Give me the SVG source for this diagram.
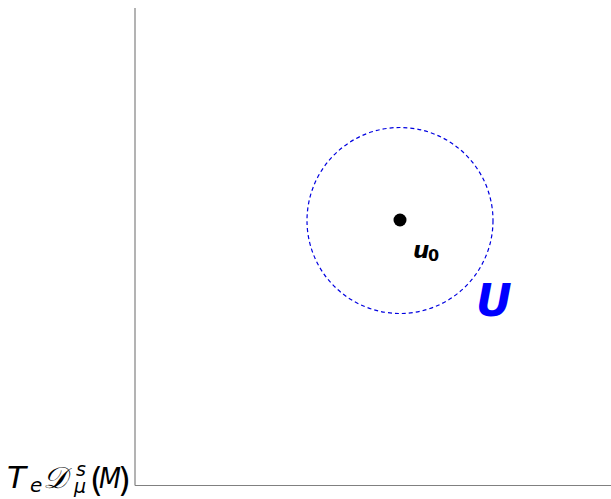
<svg xmlns="http://www.w3.org/2000/svg" width="611" height="499" viewBox="0 0 611 499">
<style>
.axis{stroke:#808080;stroke-width:1.2;fill:none}
.lbl{font-family:"DejaVu Sans",sans-serif;font-style:italic;fill:#000}
.par{font-family:"DejaVu Sans",sans-serif;fill:#000}
</style>
<rect width="611" height="499" fill="#fff"/>
<g id="axes">
<line class="axis" x1="135" y1="8" x2="135" y2="485.5"/>
<line class="axis" x1="135" y1="485.5" x2="611" y2="485.5"/>
</g>
<g id="U">
<circle cx="400" cy="220.5" r="93" fill="none" stroke="#0000e0" stroke-width="1.2" stroke-dasharray="4,3"/>
<text x="476" y="316" font-family="DejaVu Sans,sans-serif" font-weight="bold" font-style="italic" font-size="44" fill="#0000ff">U</text>
</g>
<g id="u0">
<circle cx="400" cy="220" r="6.5" fill="#000"/>
<text class="lbl" x="413" y="258" font-size="23" font-weight="bold">u</text>
<text x="428" y="261" font-family="DejaVu Sans,sans-serif" font-weight="bold" font-size="16" fill="#000">0</text>
</g>
<g id="space">
<text class="lbl" x="7" y="488" font-size="31">T</text>
<text class="lbl" x="30" y="492" font-size="20">e</text>
<text class="lbl" x="43" y="488" font-size="30">𝒟</text>
<text class="lbl" x="76" y="476" font-size="19">s</text>
<text class="lbl" x="74" y="493" font-size="19">μ</text>
<text class="par" x="90" y="492" font-size="33">(</text>
<text class="lbl" x="99" y="488" font-size="29" textLength="22" lengthAdjust="spacingAndGlyphs">M</text>
<text class="par" x="118" y="492" font-size="33">)</text>
</g>
</svg>
